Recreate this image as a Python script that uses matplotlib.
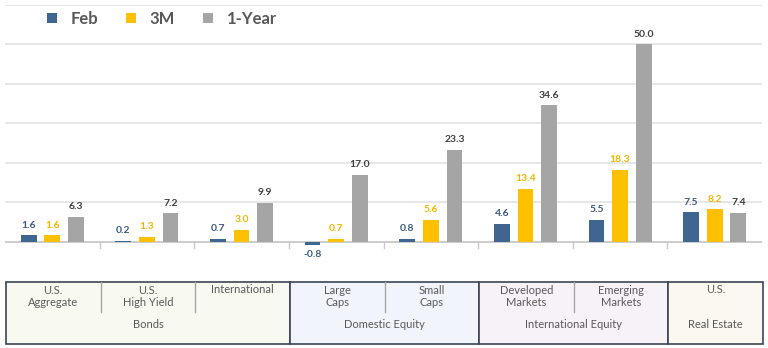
import matplotlib
matplotlib.use("Agg")
import matplotlib.pyplot as plt
import numpy as np

plt.rcParams['font.family'] = ['Lato', 'DejaVu Sans']

categories = ["U.S.\nAggregate", "U.S.\nHigh Yield", "International", "Large\nCaps",
              "Small\nCaps", "Developed\nMarkets", "Emerging\nMarkets", "U.S."]
series_names = ["Feb", "3M", "1-Year"]
feb = [1.6, 0.2, 0.7, -0.8, 0.8, 4.6, 5.5, 7.5]
m3 = [1.6, 1.3, 3.0, 0.7, 5.6, 13.4, 18.3, 8.2]
y1 = [6.3, 7.2, 9.9, 17.0, 23.3, 34.6, 50.0, 7.4]
groups = ["Bonds", "Domestic Equity", "International Equity", "Real Estate"]
group_spans = [(0, 2), (3, 4), (5, 6), (7, 7)]

bar_colors = ["#3F6690", "#FFC000", "#A5A5A5"]
label_colors = ["#3E5A7E", "#F2B600", "#404040"]
group_bg = ["#F8F9F1", "#F1F5FB", "#F7F2F8", "#FBF8F1"]

W, H = 768, 348
fig = plt.figure(figsize=(W / 100, H / 100), dpi=100)

def fx(px):
    return px / W

def fy(py):
    return 1 - py / H

# main axes
ymin, ymax = -8, 60
top_px, zero_px = 5, 241.7
bottom_px = zero_px + (zero_px - top_px) / ymax * (-ymin)
ax = fig.add_axes([fx(5), fy(bottom_px), fx(762) - fx(5), fy(top_px) - fy(bottom_px)])
ax.set_xlim(-0.5, len(categories) - 0.5)
ax.set_ylim(ymin, ymax)
for s in ax.spines.values():
    s.set_visible(False)
ax.set_xticks([])
ax.set_yticks([])
for g in range(10, 61, 10):
    ax.axhline(g, color="#E3E3E3", lw=1.2, zorder=0)
ax.axhline(0, color="#C8C8C8", lw=1.3, zorder=1)
sep_len = 6 / (zero_px - top_px) * ymax
for b in np.arange(0.5, len(categories) - 1, 1.0):
    ax.plot([b, b], [0, -sep_len], color="#C8C8C8", lw=1.0, zorder=1)

x = np.arange(len(categories))
off = 0.25
width = 0.166
for i, (vals, col, lcol) in enumerate(zip([feb, m3, y1], bar_colors, label_colors)):
    pos = x + (i - 1) * off
    ax.bar(pos, vals, width, color=col, zorder=2, label=series_names[i])
    for xp, v in zip(pos, vals):
        if v >= 0:
            ax.annotate(f"{v:.1f}", (xp, v), xytext=(0, 4), textcoords="offset points",
                        ha="center", va="bottom", fontsize=7.5, fontweight="bold", color=lcol)
        else:
            ax.annotate(f"{v:.1f}", (xp, v), xytext=(0, -4), textcoords="offset points",
                        ha="center", va="top", fontsize=7.5, fontweight="bold", color=lcol)

leg = fig.legend(loc="upper left", bbox_to_anchor=(fx(32), fy(-4)), ncol=3, frameon=False,
                 handlelength=0.6, handleheight=0.6, columnspacing=1.7, handletextpad=0.8,
                 prop={"weight": "bold", "size": 12})
for t in leg.get_texts():
    t.set_color("#595959")

# table axes
tl, tr, tt, tb = 6, 763, 282, 344
tax = fig.add_axes([fx(tl), fy(tb), fx(tr) - fx(tl), fy(tt) - fy(tb)])
tax.set_xlim(-0.5, len(categories) - 0.5)
tax.set_ylim(0, 1)
tax.axis("off")
for (a, b), bg, name in zip(group_spans, group_bg, groups):
    tax.add_patch(plt.Rectangle((a - 0.5, 0), b - a + 1, 1, facecolor=bg,
                                edgecolor="#3B4554", lw=1.2, zorder=1, clip_on=False))
    tax.text((a + b) / 2, 0.31, name, ha="center", va="center", fontsize=8, color="#595959")
    for k in range(a, b):
        tax.plot([k + 0.5, k + 0.5], [1, 0.52], color="#A6A6A6", lw=1.0, zorder=2)
for i, c in enumerate(categories):
    yy = 0.88 if "\n" not in c else 0.77
    tax.text(i, yy, c, ha="center", va="center", fontsize=8, color="#595959",
             linespacing=1.1)

fig.savefig("out.png", dpi=100)
